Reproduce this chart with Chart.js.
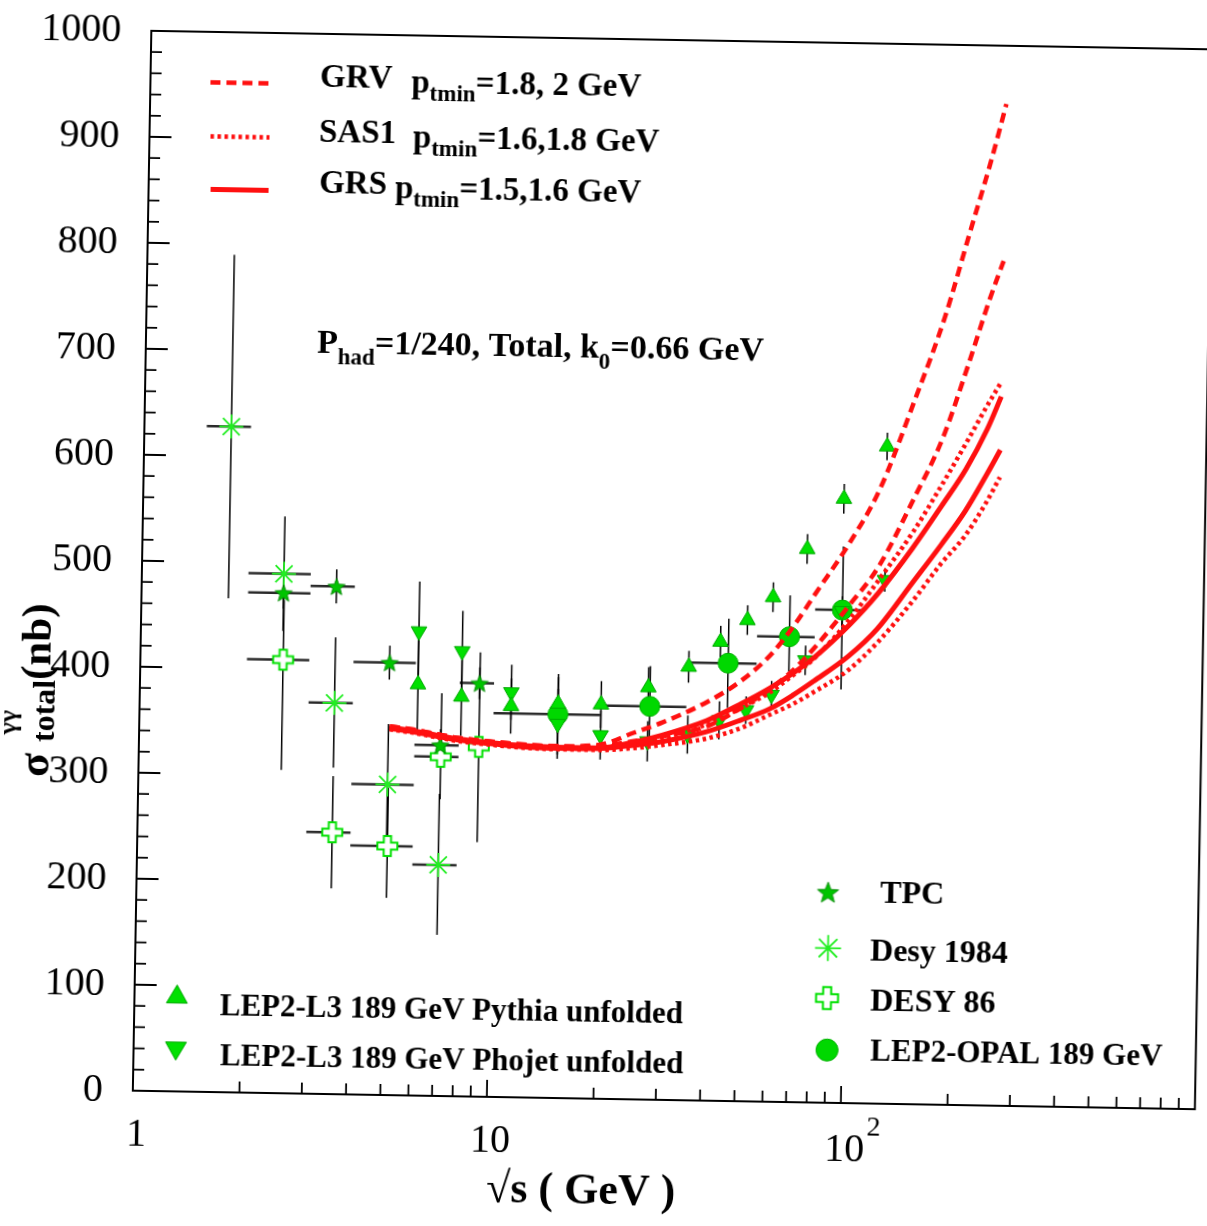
<!DOCTYPE html>
<html>
<head>
<meta charset="utf-8">
<script src="https://cdn.jsdelivr.net/npm/chart.js@4.4.0/dist/chart.umd.min.js"></script>
<style>
  html, body { margin: 0; padding: 0; background: #fff; }
  #wrap { width: 1207px; height: 1226px; overflow: hidden; }
  /* the scanned figure sits about one degree clockwise */
  #sigma_chart { display: block; transform: rotate(1deg); transform-origin: 672px 570px; }
</style>
</head>
<body>
<div id="wrap"><canvas id="sigma_chart" width="1218" height="1226"></canvas></div>
<script>
// model curves, sqrt(s) in GeV, sigma in nb
var curveX  = [5.1, 6, 7, 8, 10, 12, 15, 20, 25, 30, 40, 50, 60, 70, 80, 100, 120, 150, 180, 210, 240, 262];
var grvHigh = [348, 345, 341, 338, 335, 333, 332, 334, 346, 356, 376, 397, 421, 450, 480, 530, 579, 666, 743, 824, 894, 945];
var grvLow  = [348, 345, 341, 338, 335, 333, 331.5, 332.5, 338, 343, 353, 371, 389, 408, 429, 470, 506, 571, 629, 697, 760, 797];
var sasHigh = [346, 343, 339, 336, 333, 331, 330, 330, 335, 341, 355, 371, 386, 403, 419, 456, 493, 540, 585, 625, 661, 683];
var sasLow  = [345, 342, 338, 335, 332, 330, 329, 329, 331.4, 334.7, 341.6, 352, 364.8, 375.6, 387.2, 408.6, 434.5, 473.8, 510, 536.9, 568.4, 593];
var grsHigh = [347, 344, 340, 337, 334, 332, 331, 331, 337, 344, 358.5, 375, 390, 405, 420, 451, 481, 525, 565, 600, 638, 669];
var grsLow  = [346, 343, 339, 336, 333, 331, 330, 330.5, 334, 338, 348, 359.6, 370.4, 384, 397.6, 421.8, 447.7, 491.7, 528, 560.5, 594.8, 618.6];

// TPC
var tpcX = [2.52, 3.55, 5.06, 7.1, 9.1];
var tpcY = [472, 479, 408, 331, 390];
var tpcErr = [15, 16, 16, 15, 15];
var tpcBinLo = [2, 3, 4, 6, 8];
var tpcBinHi = [3, 4, 6, 8, 10];

// Desy 1984
var desy84X = [1.76, 2.52, 3.55, 5.06, 7.1];
var desy84Y = [628, 490, 369, 293, 218];
var desy84Lo = [466, 436, 308, 230, 152];
var desy84Hi = [790, 544, 431, 350, 285];
var desy84BinLo = [1.5, 2, 3, 4, 6];
var desy84BinHi = [2, 3, 4, 6, 8];

// DESY 86
var desy86X = [2.53, 3.55, 5.09, 7.13, 9.12];
var desy86Y = [409, 247, 235, 320, 330];
var desy86Lo = [305, 194, 186, 280, 240];
var desy86Hi = [465, 300, 290, 380, 419];
var desy86BinLo = [2, 3, 4, 6, null];
var desy86BinHi = [3, 4, 6, 8, null];

// LEP2-OPAL 189 GeV
var opalX = [15.2, 27.6, 45.7, 67.9, 95.5];
var opalY = [362, 371, 413, 439, 465];
var opalLo = [324, 332, 371, 398, 390];
var opalHi = [397, 409, 455, 478, 525];
var opalBinLo = [10, 20, 35, 55, 80];
var opalBinHi = [20, 35, 55, 80, 110];

// LEP2-L3 189 GeV unfolded
var l3X = [6.1, 8.1, 11.2, 15.2, 20.1, 27.3, 35.4, 43.4, 51.6, 60.8, 75.5, 95.3, 125.5];
var pythiaY = [388, 377, 369, 372, 372, 389, 409, 433, 454, 476, 522, 570, 620];
var pythiaErr = [47, 37, 26, 28, 22, 19, 15, 15, 14, 14, 14, 14, 13];
var phojetY = [438, 420, 382, 353, 343, 338, 345, 359, 369, 384, 417, 464, 494];
var phojetErr = [47, 38, 26, 33, 23, 19, 18, 18, 13, 13, 14, 14, 11];

var xTickVals = [1, 10, 100];

var RED = '#ff1010';
var SERIF = '"Liberation Serif", "Times New Roman", serif';

function pts(xs, ys) {
    return xs.map(function (x, i) { return {x: x, y: ys[i]}; });
}

//marker pictures
function makeStar(r) {
    var c = document.createElement('canvas');
    var s = Math.ceil(r * 2 + 4);
    c.width = s; c.height = s;
    var g = c.getContext('2d');
    g.translate(s / 2, s / 2 + r * 0.1);
    g.beginPath();
    for (var k = 0; k < 10; k++) {
        var rr = k % 2 === 0 ? r : r * 0.42;
        var a = -Math.PI / 2 + k * Math.PI / 5;
        g.lineTo(rr * Math.cos(a), rr * Math.sin(a));
    }
    g.closePath();
    g.fillStyle = '#00c400';
    g.fill();
    g.strokeStyle = '#008a00';
    g.lineWidth = 1;
    g.stroke();
    return c;
}

function makeCross(r, a) {
    var c = document.createElement('canvas');
    var s = Math.ceil(r * 2 + 4);
    c.width = s; c.height = s;
    var g = c.getContext('2d');
    g.translate(s / 2, s / 2);
    var p = [[-a,-r],[a,-r],[a,-a],[r,-a],[r,a],[a,a],[a,r],[-a,r],[-a,a],[-r,a],[-r,-a],[-a,-a]];
    g.beginPath();
    p.forEach(function (q) { g.lineTo(q[0], q[1]); });
    g.closePath();
    g.fillStyle = '#fff';
    g.fill();
    g.strokeStyle = '#00e000';
    g.lineWidth = 2;
    g.stroke();
    return c;
}

var starImg = makeStar(9), starBig = makeStar(11);
var crossImg = makeCross(10, 3.6), crossBig = makeCross(11, 4);

function curve(ys, width, dash) {
    return {
        type: 'line',
        data: pts(curveX, ys),
        borderColor: RED,
        borderWidth: width,
        borderDash: dash,
        pointRadius: 0,
        fill: false,
        cubicInterpolationMode: 'monotone'
    };
}

// error bars, drawn under the markers
var errorSets = [
    {x: tpcX, y: tpcY, lo: tpcY.map(function (v, i) { return v - tpcErr[i]; }), hi: tpcY.map(function (v, i) { return v + tpcErr[i]; }), binLo: tpcBinLo, binHi: tpcBinHi},
    {x: desy84X, y: desy84Y, lo: desy84Lo, hi: desy84Hi, binLo: desy84BinLo, binHi: desy84BinHi},
    {x: desy86X, y: desy86Y, lo: desy86Lo, hi: desy86Hi, binLo: desy86BinLo, binHi: desy86BinHi},
    {x: opalX, y: opalY, lo: opalLo, hi: opalHi, binLo: opalBinLo, binHi: opalBinHi},
    {x: l3X, y: pythiaY, lo: pythiaY.map(function (v, i) { return v - pythiaErr[i]; }), hi: pythiaY.map(function (v, i) { return v + pythiaErr[i]; })},
    {x: l3X, y: phojetY, lo: phojetY.map(function (v, i) { return v - phojetErr[i]; }), hi: phojetY.map(function (v, i) { return v + phojetErr[i]; })}
];

var errorBarPlugin = {
    id: 'errorBars',
    beforeDatasetsDraw: function (chart) {
        var ctx = chart.ctx, xs = chart.scales.x, ys = chart.scales.y;
        ctx.save();
        errorSets.forEach(function (s) {
            for (var i = 0; i < s.x.length; i++) {
                var px = xs.getPixelForValue(s.x[i]);
                var py = ys.getPixelForValue(s.y[i]);
                if (s.binLo && s.binLo[i] != null) {
                    ctx.strokeStyle = '#2a2a2a';
                    ctx.lineWidth = 2.5;
                    ctx.beginPath();
                    ctx.moveTo(xs.getPixelForValue(s.binLo[i]), py);
                    ctx.lineTo(xs.getPixelForValue(s.binHi[i]), py);
                    ctx.stroke();
                }
                ctx.strokeStyle = '#000';
                ctx.lineWidth = 1.5;
                ctx.beginPath();
                ctx.moveTo(px, ys.getPixelForValue(s.lo[i]));
                ctx.lineTo(px, ys.getPixelForValue(s.hi[i]));
                ctx.stroke();
            }
        });
        ctx.restore();
    }
};

function runs(ctx, x, y, parts) {
    parts.forEach(function (p) {
        ctx.font = 'bold ' + p[1] + 'px ' + SERIF;
        ctx.fillText(p[0], x, y + (p[2] || 0));
        x += ctx.measureText(p[0]).width;
    });
}

function marker(ctx, style, r, rot, fill, stroke, bw, x, y) {
    ctx.save();
    ctx.fillStyle = fill;
    ctx.strokeStyle = stroke;
    ctx.lineWidth = bw;
    Chart.helpers.drawPoint(ctx, {pointStyle: style, radius: r, rotation: rot, borderWidth: bw}, x, y);
    ctx.restore();
}

var decorPlugin = {
    id: 'decor',
    beforeDraw: function (chart) {
        var ctx = chart.ctx;
        ctx.save();
        ctx.fillStyle = '#fff';
        ctx.fillRect(0, 0, chart.width, chart.height);
        ctx.restore();
    },
    afterDraw: function (chart) {
        var ctx = chart.ctx, a = chart.chartArea;
        var xs = chart.scales.x, ys = chart.scales.y;
        ctx.save();

        //frame
        ctx.strokeStyle = '#000';
        ctx.lineWidth = 2;
        ctx.strokeRect(a.left, a.top, a.right - a.left, a.bottom - a.top);

        //ticks pointing inwards
        ctx.lineWidth = 1.8;
        ctx.beginPath();
        for (var v = 0; v <= 1000; v += 20) {
            var py = ys.getPixelForValue(v);
            ctx.moveTo(a.left, py);
            ctx.lineTo(a.left + (v % 100 === 0 ? 22 : 11), py);
        }
        [1, 10, 100].forEach(function (d) {
            for (var m = 2; m <= 9; m++) {
                var px = xs.getPixelForValue(m * d);
                ctx.moveTo(px, a.bottom);
                ctx.lineTo(px, a.bottom - 11);
            }
        });
        [10, 100].forEach(function (d) {
            var px = xs.getPixelForValue(d);
            ctx.moveTo(px, a.bottom);
            ctx.lineTo(px, a.bottom - 17);
        });
        ctx.stroke();

        //x tick labels, 10^2 with a raised 2
        ctx.fillStyle = '#000';
        ctx.font = '40px ' + SERIF;
        ctx.textAlign = 'center';
        ctx.textBaseline = 'middle';
        var lx = xTickVals.map(function (t) { return xs.getPixelForValue(t) + 4; });
        ctx.fillText('1', lx[0], a.bottom + 44);
        ctx.fillText('10', lx[1], a.bottom + 44);
        ctx.fillText('10', lx[2], a.bottom + 47);
        ctx.font = '28px ' + SERIF;
        ctx.fillText('2', lx[2] + 29, a.bottom + 25);

        //line legend
        ctx.strokeStyle = RED;
        ctx.lineWidth = 4.5;
        ctx.setLineDash([10, 6]);
        ctx.beginPath(); ctx.moveTo(202, 90.5); ctx.lineTo(260, 90.5); ctx.stroke();
        ctx.lineWidth = 4.5;
        ctx.setLineDash([3.5, 3.5]);
        ctx.beginPath(); ctx.moveTo(203, 144.5); ctx.lineTo(262, 144.5); ctx.stroke();
        ctx.lineWidth = 5;
        ctx.setLineDash([]);
        ctx.beginPath(); ctx.moveTo(204, 197.5); ctx.lineTo(262, 197.5); ctx.stroke();

        ctx.textAlign = 'left';
        ctx.textBaseline = 'alphabetic';
        runs(ctx, 311.6, 93, [['GRV', 33]]);
        runs(ctx, 403, 96.6, [['p', 33], ['tmin', 23, 8], ['=1.8, 2 GeV', 33]]);
        runs(ctx, 311.5, 148.2, [['SAS1', 33]]);
        runs(ctx, 405.6, 151.5, [['p', 33], ['tmin', 23, 8], ['=1.6,1.8 GeV', 33]]);
        runs(ctx, 312.4, 199.2, [['GRS', 33]]);
        runs(ctx, 388.4, 202.8, [['p', 33], ['tmin', 23, 8], ['=1.5,1.6 GeV', 33]]);

        runs(ctx, 313.2, 359.2, [['P', 34], ['had', 23, 11], ['=1/240, Total, k', 34], ['0', 23, 11], ['=0.66 GeV', 34]]);

        //marker legends
        marker(ctx, 'triangle', 12, 0, '#00e000', '#00a800', 1, 184.5, 1005.6);
        marker(ctx, 'triangle', 12, 180, '#00e000', '#00a800', 1, 184.3, 1056.7);
        runs(ctx, 227.5, 1022.9, [['LEP2-L3 189 GeV Pythia unfolded', 31]]);
        runs(ctx, 228.6, 1073, [['LEP2-L3 189 GeV Phojet unfolded', 31]]);

        marker(ctx, starBig, 11, 0, '#00c400', '#008a00', 0, 833.6, 889.3);
        marker(ctx, 'star', 13, 0, '#22ee22', '#22ee22', 1.8, 834.6, 945.3);
        marker(ctx, crossBig, 11, 0, '#fff', '#00e000', 0, 834.5, 995.3);
        marker(ctx, 'circle', 11, 0, '#00d800', '#00b000', 1, 835.4, 1047.3);
        runs(ctx, 885.8, 899.4, [['TPC', 32]]);
        runs(ctx, 876.8, 956.5, [['Desy 1984', 32]]);
        runs(ctx, 877.7, 1006.5, [['DESY 86', 32]]);
        runs(ctx, 878.6, 1056.5, [['LEP2-OPAL 189 GeV', 31]]);

        //axis titles
        runs(ctx, 497, 1205, [['\u221As ( GeV )', 44]]);

        ctx.translate(52, 788);
        ctx.rotate(-Math.PI / 2);
        ctx.font = 'bold 44px ' + SERIF;
        ctx.fillText('\u03C3', 0, 0);
        ctx.font = 'bold 26px ' + SERIF;
        ctx.fillText('\u03B3\u03B3', 42, -33);
        ctx.font = 'bold 32px ' + SERIF;
        ctx.fillText('total', 35, 5);
        ctx.font = 'bold 43px ' + SERIF;
        ctx.fillText('(nb)', 97, 0);

        ctx.restore();
    }
};

var ctx = document.getElementById('sigma_chart').getContext('2d');
var sigmaChart = new Chart(ctx, {
    data: {
        datasets: [
            curve(grvHigh, 4.5, [10, 6]),
            curve(grvLow, 4.5, [10, 6]),
            curve(sasHigh, 4.5, [3.5, 3.5]),
            curve(sasLow, 4.5, [3.5, 3.5]),
            curve(grsHigh, 5, []),
            curve(grsLow, 5, []),
            {
                type: 'scatter', label: 'LEP2-L3 189 GeV Pythia unfolded',
                data: pts(l3X, pythiaY),
                pointStyle: 'triangle', pointRadius: 9,
                backgroundColor: '#00e000', borderColor: '#00a800', borderWidth: 1
            },
            {
                type: 'scatter', label: 'LEP2-L3 189 GeV Phojet unfolded',
                data: pts(l3X, phojetY),
                pointStyle: 'triangle', pointRotation: 180, pointRadius: 9,
                backgroundColor: '#00e000', borderColor: '#00a800', borderWidth: 1
            },
            {
                type: 'scatter', label: 'LEP2-OPAL 189 GeV',
                data: pts(opalX, opalY),
                pointStyle: 'circle', pointRadius: 10,
                backgroundColor: '#00d800', borderColor: '#00b000', borderWidth: 1
            },
            {
                type: 'scatter', label: 'TPC',
                data: pts(tpcX, tpcY),
                pointStyle: starImg, pointRadius: 9
            },
            {
                type: 'scatter', label: 'Desy 1984',
                data: pts(desy84X, desy84Y),
                pointStyle: 'star', pointRadius: 12,
                borderColor: '#22ee22', borderWidth: 1.8
            },
            {
                type: 'scatter', label: 'DESY 86',
                data: pts(desy86X, desy86Y),
                pointStyle: crossImg, pointRadius: 10
            }
        ]
    },
    options: {
        responsive: false,
        devicePixelRatio: 1,
        animation: false,
        events: [],
        layout: {padding: {top: 40, right: 0, left: 0, bottom: 0}},
        plugins: {
            legend: {display: false},
            tooltip: {enabled: false},
            title: {display: false}
        },
        scales: {
            x: {
                type: 'logarithmic',
                position: 'bottom',
                min: 1,
                max: 1000,
                grid: {display: false, drawTicks: false},
                border: {display: false},
                afterBuildTicks: function (s) {
                    s.ticks = xTickVals.map(function (v) { return {value: v}; });
                },
                afterFit: function (s) {
                    s.height = 126;
                    s.paddingLeft = 0;
                    s.paddingRight = 0;
                },
                ticks: {display: false}
            },
            y: {
                min: 0,
                max: 1000,
                grid: {display: false, drawTicks: false},
                border: {display: false},
                afterFit: function (s) {
                    s.width = 142;
                    s.paddingTop = 0;
                    s.paddingBottom = 0;
                },
                ticks: {
                    stepSize: 100,
                    padding: 30,
                    color: '#000',
                    font: {family: SERIF, size: 40},
                    callback: function (v) { return String(v); }
                }
            }
        }
    },
    plugins: [errorBarPlugin, decorPlugin]
});
</script>
</body>
</html>
